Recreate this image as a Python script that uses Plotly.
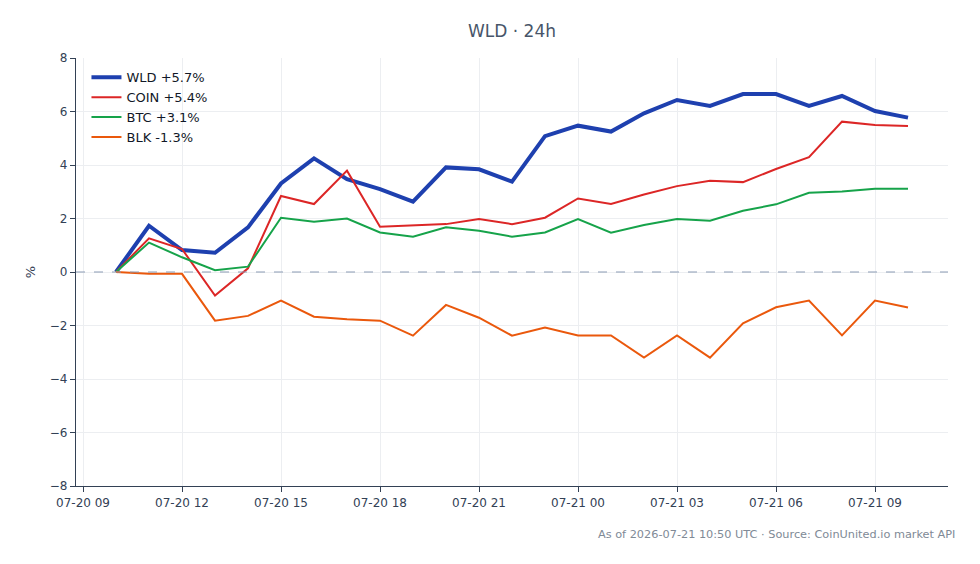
import plotly.graph_objects as go
import pandas as pd

times = pd.date_range("2026-07-20 10:00", "2026-07-21 10:00", freq="h")

wld = [0, 1.73, 0.82, 0.72, 1.67, 3.31, 4.25, 3.47, 3.10, 2.63, 3.91, 3.84, 3.38, 5.08, 5.47,
       5.25, 5.93, 6.43, 6.21, 6.65, 6.65, 6.21, 6.58, 6.02, 5.77]
coin = [0, 1.26, 0.86, -0.88, 0.14, 2.84, 2.54, 3.79, 1.69, 1.73, 1.79, 1.98, 1.79, 2.03, 2.75,
        2.54, 2.90, 3.21, 3.41, 3.36, 3.85, 4.29, 5.62, 5.50, 5.46]
btc = [0, 1.10, 0.55, 0.07, 0.20, 2.03, 1.88, 2.00, 1.48, 1.32, 1.67, 1.54, 1.32, 1.48, 1.98,
       1.47, 1.76, 1.98, 1.92, 2.29, 2.53, 2.96, 3.01, 3.11, 3.11]
blk = [0, -0.07, -0.07, -1.82, -1.64, -1.07, -1.67, -1.77, -1.82, -2.38, -1.23, -1.71, -2.38, -2.08,
       -2.37, -2.37, -3.20, -2.37, -3.20, -1.92, -1.32, -1.07, -2.37, -1.07, -1.33]

series_names = ["WLD +5.7%", "COIN +5.4%", "BTC +3.1%", "BLK -1.3%"]
series_vals = [wld, coin, btc, blk]
colors = ["#1e40af", "#dc2626", "#16a34a", "#ea580c"]
widths = [4, 2, 2, 2]

tick_vals = pd.date_range("2026-07-20 09:00", "2026-07-21 09:00", freq="3h")
tick_text = [t.strftime("%m-%d %H") for t in tick_vals]

fig = go.Figure()
for name, vals, c, w in zip(series_names, series_vals, colors, widths):
    fig.add_trace(go.Scatter(x=times, y=vals, mode="lines", name=name,
                             line=dict(color=c, width=w)))

fig.add_hline(y=0, line=dict(color="#8b9bb4", width=1, dash="dash"))

font_family = "DejaVu Sans"
fig.update_layout(
    width=980, height=564,
    margin=dict(l=76, r=32, t=58, b=78),
    paper_bgcolor="white", plot_bgcolor="white",
    font=dict(family=font_family, size=12, color="#374151"),
    title=dict(text="WLD · 24h", xref="paper", x=0.5, xanchor="center", y=0.945, yanchor="middle",
               font=dict(size=17, color="#475569")),
    showlegend=True,
    legend=dict(x=0.012, y=0.99, xanchor="left", yanchor="top", bgcolor="rgba(255,255,255,0)",
                font=dict(size=13, color="#111827"), tracegroupgap=0),
    xaxis=dict(
        range=[pd.Timestamp("2026-07-20 08:47:16"), pd.Timestamp("2026-07-21 11:12:44")],
        tickvals=tick_vals, ticktext=tick_text,
        showgrid=True, gridcolor="#eceef1", gridwidth=1,
        showline=True, linecolor="#334155", linewidth=1.2,
        ticks="outside", ticklen=5, tickcolor="#334155",
        tickfont=dict(size=12, color="#334155"), zeroline=False,
    ),
    yaxis=dict(
        range=[-8, 8], dtick=2, title=dict(text="%", font=dict(size=13, color="#334155"), standoff=11),
        showgrid=True, gridcolor="#eceef1", gridwidth=1,
        showline=True, linecolor="#334155", linewidth=1.2,
        ticks="outside", ticklen=5, tickcolor="#334155",
        tickfont=dict(size=12, color="#334155"), zeroline=False,
    ),
    annotations=[dict(
        text="As of 2026-07-21 10:50 UTC · Source: CoinUnited.io market API",
        xref="paper", yref="paper", x=1.0 + 9 / 872, y=-48 / 428, xanchor="right", yanchor="middle",
        showarrow=False, font=dict(size=11.3, color="#808a96", family=font_family),
    )],
)

fig.write_html("out.html")
